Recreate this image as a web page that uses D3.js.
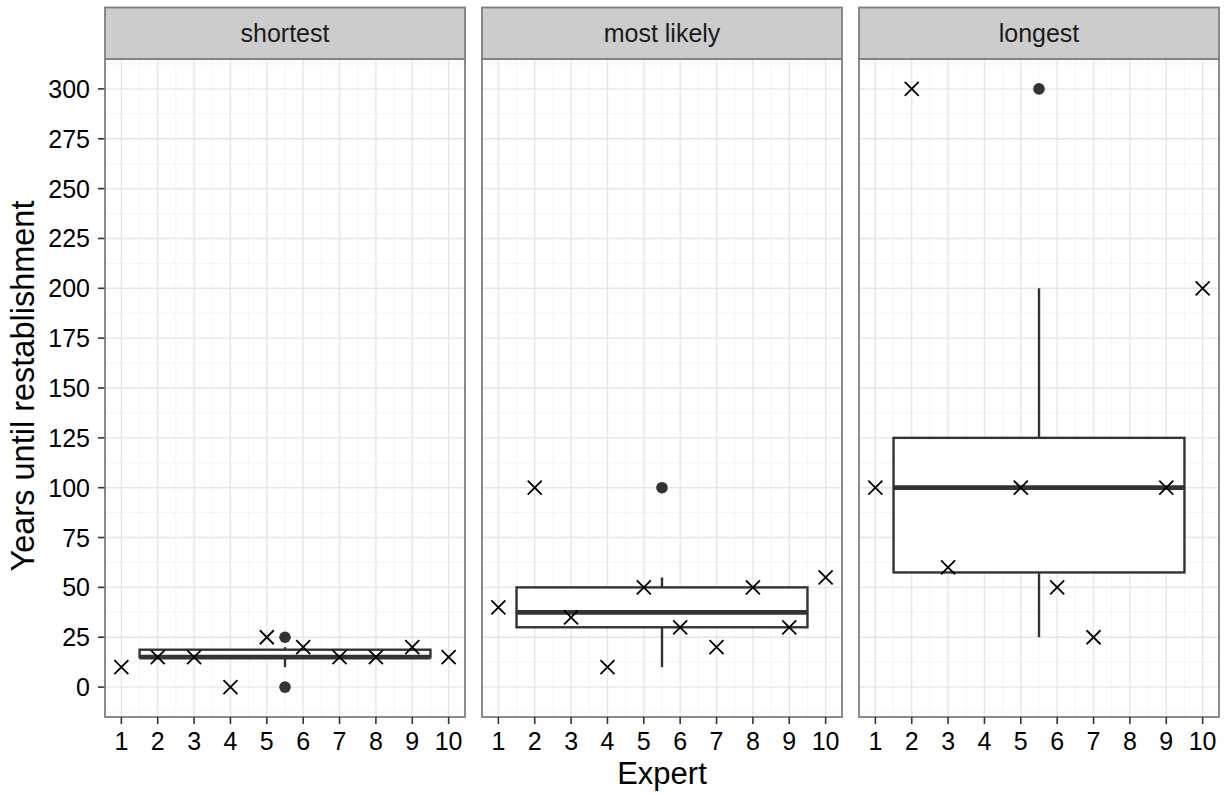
<!DOCTYPE html>
<html>
<head>
<meta charset="utf-8">
<script src="https://cdn.jsdelivr.net/npm/d3@7"></script>
<style>
  html, body { margin: 0; padding: 0; background: #fff; }
  svg { display: block; font-family: "Liberation Sans", Arial, sans-serif; }
</style>
</head>
<body>
<div id="app"></div>
<script>
// data
const experts = [1, 2, 3, 4, 5, 6, 7, 8, 9, 10];
const facets = ['shortest', 'most likely', 'longest'];
const shortest = [10, 15, 15, 0, 25, 20, 15, 15, 20, 15];
const mostLikely = [40, 100, 35, 10, 50, 30, 20, 50, 30, 55];
const longest = [100, 300, 60, null, 100, 50, 25, null, 100, 200];
const yTicks = [0, 25, 50, 75, 100, 125, 150, 175, 200, 225, 250, 275, 300];
const boxCenter = 5.5;
const boxWidth = 8;

const series = [shortest, mostLikely, longest];

const svg = d3.select('#app').append('svg')
    .attr('width', 1226)
    .attr('height', 793);

const panelLefts = [105, 482, 859];
const panelW = 360;
const panelTop = 59;
const panelBottom = 717;
const stripTop = 7.5;

const y = d3.scaleLinear()
    .domain([-15, 315])
    .range([panelBottom, panelTop]);

const yMinor = [-12.5].concat(yTicks.map(d => d + 12.5));

// y axis labels (only left)
const yAxis = svg.append('g');
yAxis.selectAll('line')
  .data(yTicks)
  .enter().append('line')
    .attr('x1', 98).attr('x2', 105)
    .attr('y1', d => y(d)).attr('y2', d => y(d))
    .attr('stroke', '#333').attr('stroke-width', 1.6);
yAxis.selectAll('text')
  .data(yTicks)
  .enter().append('text')
    .attr('x', 90)
    .attr('y', d => y(d))
    .attr('dy', '0.36em')
    .attr('text-anchor', 'end')
    .attr('font-size', 25)
    .attr('fill', '#000')
    .text(d => d);

svg.append('text')
    .attr('transform', `translate(34,${(panelTop + panelBottom) / 2 - 2}) rotate(-90)`)
    .attr('text-anchor', 'middle')
    .attr('font-size', 32.5)
    .attr('fill', '#000')
    .text('Years until restablishment');

svg.append('text')
    .attr('x', (panelLefts[0] + panelLefts[2] + panelW) / 2)
    .attr('y', 784)
    .attr('text-anchor', 'middle')
    .attr('font-size', 31)
    .attr('fill', '#000')
    .text('Expert');

facets.forEach((name, i) => {
  const left = panelLefts[i];
  const x = d3.scaleLinear()
      .domain([0.55, 10.45])
      .range([left, left + panelW]);

  const values = series[i];
  const pts = experts.map((e, j) => ({ e, v: values[j] })).filter(d => d.v != null);
  const sorted = pts.map(d => d.v).sort(d3.ascending);
  const q1 = d3.quantile(sorted, 0.25);
  const med = d3.quantile(sorted, 0.5);
  const q3 = d3.quantile(sorted, 0.75);
  const iqr = q3 - q1;
  const lo = d3.min(sorted.filter(v => v >= q1 - 1.5 * iqr));
  const hi = d3.max(sorted.filter(v => v <= q3 + 1.5 * iqr));
  const outliers = sorted.filter(v => v < lo || v > hi);

  const g = svg.append('g');

  g.append('rect')
      .attr('x', left).attr('y', panelTop)
      .attr('width', panelW).attr('height', panelBottom - panelTop)
      .attr('fill', '#fff');

  // minor grid
  g.selectAll('.ymin')
    .data(yMinor)
    .enter().append('line')
      .attr('x1', left).attr('x2', left + panelW)
      .attr('y1', d => y(d)).attr('y2', d => y(d))
      .attr('stroke', '#f4f4f4').attr('stroke-width', 1);
  g.selectAll('.xmin')
    .data(experts.slice(0, -1).map(d => d + 0.5))
    .enter().append('line')
      .attr('y1', panelTop).attr('y2', panelBottom)
      .attr('x1', d => x(d)).attr('x2', d => x(d))
      .attr('stroke', '#f4f4f4').attr('stroke-width', 1);

  // major grid
  g.selectAll('.ymaj')
    .data(yTicks)
    .enter().append('line')
      .attr('x1', left).attr('x2', left + panelW)
      .attr('y1', d => y(d)).attr('y2', d => y(d))
      .attr('stroke', '#e6e6e6').attr('stroke-width', 1.4);
  g.selectAll('.xmaj')
    .data(experts)
    .enter().append('line')
      .attr('y1', panelTop).attr('y2', panelBottom)
      .attr('x1', d => x(d)).attr('x2', d => x(d))
      .attr('stroke', '#e6e6e6').attr('stroke-width', 1.4);

  // boxplot
  const bx = x(boxCenter);
  g.append('line')
      .attr('x1', bx).attr('x2', bx)
      .attr('y1', y(hi)).attr('y2', y(q3))
      .attr('stroke', '#333').attr('stroke-width', 2.4);
  g.append('line')
      .attr('x1', bx).attr('x2', bx)
      .attr('y1', y(q1)).attr('y2', y(lo))
      .attr('stroke', '#333').attr('stroke-width', 2.4);
  g.append('rect')
      .attr('x', x(boxCenter - boxWidth / 2))
      .attr('y', y(q3))
      .attr('width', x(boxCenter + boxWidth / 2) - x(boxCenter - boxWidth / 2))
      .attr('height', y(q1) - y(q3))
      .attr('fill', '#fff')
      .attr('stroke', '#333').attr('stroke-width', 2.4);
  g.append('line')
      .attr('x1', x(boxCenter - boxWidth / 2)).attr('x2', x(boxCenter + boxWidth / 2))
      .attr('y1', y(med)).attr('y2', y(med))
      .attr('stroke', '#333').attr('stroke-width', 4.8);
  g.selectAll('.outlier')
    .data(outliers)
    .enter().append('circle')
      .attr('cx', bx).attr('cy', d => y(d))
      .attr('r', 5.8)
      .attr('fill', '#333');

  // expert crosses
  const s = 7;
  g.selectAll('.cross')
    .data(pts)
    .enter().append('path')
      .attr('d', d => `M${x(d.e) - s},${y(d.v) - s}L${x(d.e) + s},${y(d.v) + s}M${x(d.e) - s},${y(d.v) + s}L${x(d.e) + s},${y(d.v) - s}`)
      .attr('stroke', '#000').attr('stroke-width', 1.8)
      .attr('fill', 'none');

  // panel border
  g.append('rect')
      .attr('x', left).attr('y', panelTop)
      .attr('width', panelW).attr('height', panelBottom - panelTop)
      .attr('fill', 'none')
      .attr('stroke', '#7f7f7f').attr('stroke-width', 1.8);

  // strip
  g.append('rect')
      .attr('x', left).attr('y', stripTop)
      .attr('width', panelW).attr('height', panelTop - stripTop)
      .attr('fill', '#cccccc')
      .attr('stroke', '#7f7f7f').attr('stroke-width', 1.8);
  g.append('text')
      .attr('x', left + panelW / 2)
      .attr('y', (stripTop + panelTop) / 2)
      .attr('dy', '0.36em')
      .attr('text-anchor', 'middle')
      .attr('font-size', 25)
      .attr('fill', '#1a1a1a')
      .text(name);

  // x axis
  g.selectAll('.xtick')
    .data(experts)
    .enter().append('line')
      .attr('x1', d => x(d)).attr('x2', d => x(d))
      .attr('y1', panelBottom).attr('y2', panelBottom + 7)
      .attr('stroke', '#333').attr('stroke-width', 1.6);
  g.selectAll('.xlab')
    .data(experts)
    .enter().append('text')
      .attr('x', d => x(d))
      .attr('y', 750)
      .attr('text-anchor', 'middle')
      .attr('font-size', 25)
      .attr('fill', '#000')
      .text(d => d);
});
</script>
</body>
</html>
